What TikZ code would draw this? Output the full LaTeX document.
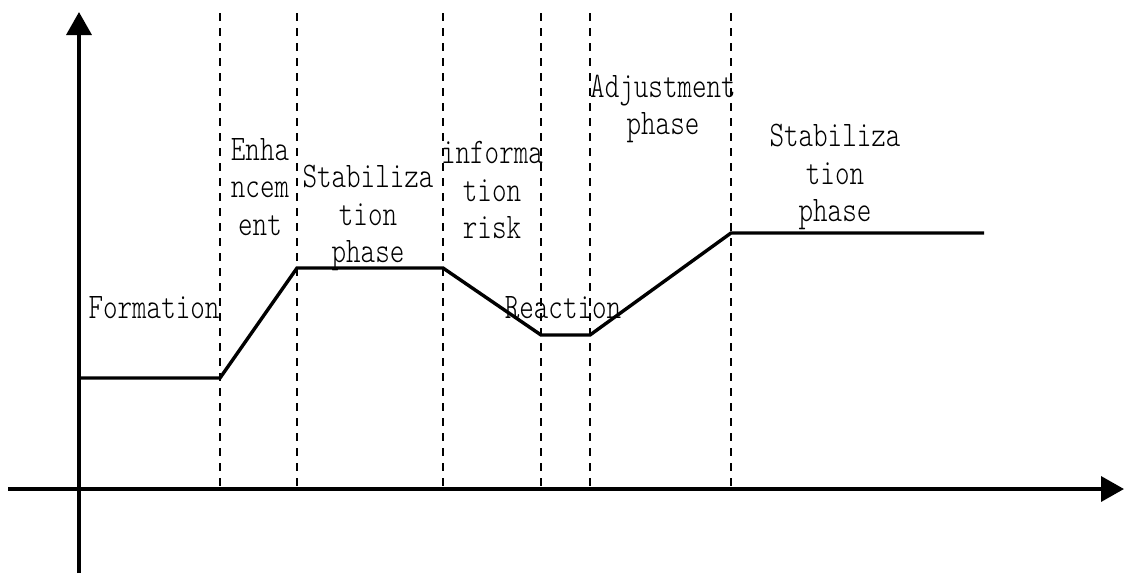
\documentclass[tikz,border=0pt]{standalone}
\usepackage{fontspec}
\newfontfamily\phasefont[FakeStretch=0.77]{lmmonolt10-regular.otf}
\usetikzlibrary{arrows.meta}
\tikzset{
  axisline/.style={line width=3.6pt, -{Triangle[width=25pt,length=23pt]}},
  curveline/.style={line width=3.4pt, line join=miter},
  divider/.style={line width=1.2pt, dash pattern=on 8pt off 7pt},
  phaselabel/.style={font=\phasefont\fontsize{36}{37.5}\selectfont, align=center, inner sep=0pt}
}
\begin{document}
\begin{tikzpicture}[x=1pt, y=-1pt]
\useasboundingbox (0,0) rectangle (1124,573);

% axes
\coordinate (ybot) at (79,573);
\coordinate (ytop) at (79,12);
\coordinate (xleft) at (8,489);
\coordinate (xright) at (1124,489);
\draw[axisline] (ybot) -- (ytop);
\draw[axisline] (xleft) -- (xright);

% phase boundaries
\foreach \name/\xx in {d1/220, d2/297, d3/443, d4/541, d5/590, d6/731} {
  \coordinate (\name top) at (\xx,13);
  \coordinate (\name bot) at (\xx,489);
  \draw[divider] (\name top) -- (\name bot);
}

% evolution curve
\coordinate (p0) at (79,378);
\coordinate (p1) at (220,378);
\coordinate (p2) at (297,268);
\coordinate (p3) at (443,268);
\coordinate (p4) at (541,335);
\coordinate (p5) at (590,335);
\coordinate (p6) at (731,233);
\coordinate (p7) at (984,233);
\draw[curveline] (p0) -- (p1) -- (p2) -- (p3) -- (p4) -- (p5) -- (p6) -- (p7);

% phase labels
\node[phaselabel] (formation) at (154,308) {Formation};
\node[phaselabel] (enhance) at (260,187) {Enha\\ncem\\ent};
\node[phaselabel] (stab1) at (368,218) {Stabiliza\\tion\\phase};
\node[phaselabel] (inforisk) at (492,190) {informa\\tion\\risk};
\node[phaselabel] (reaction) at (563,308) {Reaction};
\node[phaselabel] (adjust) at (663,109) {Adjustment\\phase};
\node[phaselabel] (stab2) at (835,177) {Stabiliza\\tion\\phase};
\end{tikzpicture}
\end{document}
